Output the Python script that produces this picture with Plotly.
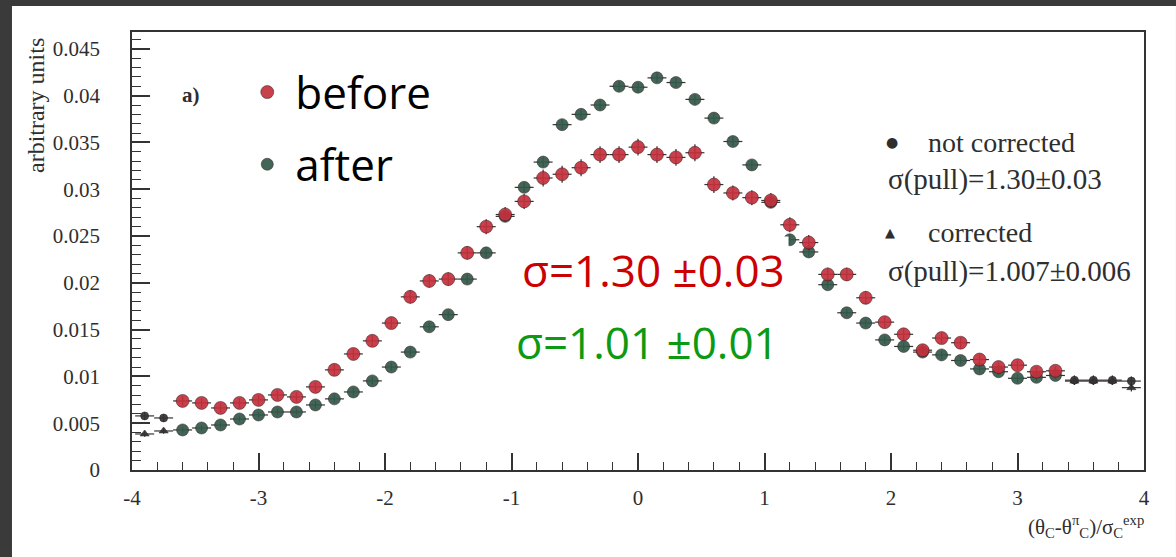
import plotly.graph_objects as go

# ---------------- data ----------------
bin_centers = [-3.9, -3.75, -3.6, -3.45, -3.3, -3.15, -3.0, -2.85, -2.7, -2.55,
               -2.4, -2.25, -2.1, -1.95, -1.8, -1.65, -1.5, -1.35, -1.2, -1.05,
               -0.9, -0.75, -0.6, -0.45, -0.3, -0.15, 0.0, 0.15, 0.3, 0.45,
               0.6, 0.75, 0.9, 1.05, 1.2, 1.35, 1.5, 1.65, 1.8, 1.95,
               2.1, 2.25, 2.4, 2.55, 2.7, 2.85, 3.0, 3.15, 3.3, 3.45,
               3.6, 3.75, 3.9]

before_vals = [0.00578, 0.00556, 0.00738, 0.00717, 0.00663, 0.00717, 0.00749, 0.00802, 0.00781, 0.00888,
               0.0107, 0.0124, 0.0138, 0.0157, 0.0185, 0.0202, 0.0204, 0.0232, 0.0260, 0.0273,
               0.0287, 0.0312, 0.0316, 0.0323, 0.0337, 0.0337, 0.0345, 0.0337, 0.0334, 0.0339,
               0.0305, 0.0296, 0.0291, 0.0288, 0.0262, 0.0243, 0.0209, 0.0209, 0.0184, 0.0158,
               0.0145, 0.0128, 0.0141, 0.0136, 0.0118, 0.0110, 0.0112, 0.0105, 0.0106, 0.0096,
               0.0096, 0.0096, 0.0095]

after_vals = [0.00385, 0.00417, 0.00428, 0.00449, 0.00481, 0.00545, 0.00588, 0.0062, 0.0062, 0.00695,
              0.0076, 0.00834, 0.00952, 0.0110, 0.0126, 0.0153, 0.0166, 0.0204, 0.0232, 0.0271,
              0.0302, 0.0329, 0.0369, 0.0380, 0.0390, 0.0410, 0.0409, 0.0419, 0.0414, 0.0396,
              0.0376, 0.0351, 0.0326, 0.0286, 0.0246, 0.0233, 0.0198, 0.0168, 0.0157, 0.0139,
              0.0132, 0.0126, 0.0123, 0.0117, 0.0108, 0.0105, 0.0098, 0.0099, 0.0101, 0.0095,
              0.0095, 0.0095, 0.0088]

before_err = [0.0004, 0.0004, 0.0005, 0.0005, 0.0005, 0.0005, 0.0005, 0.0005, 0.0005, 0.0005,
              0.0006, 0.0006, 0.0006, 0.0006, 0.0007, 0.0007, 0.0007, 0.0007, 0.0008, 0.0008,
              0.0008, 0.0009, 0.0009, 0.0009, 0.0009, 0.0009, 0.0009, 0.0009, 0.0009, 0.0009,
              0.0009, 0.0008, 0.0008, 0.0008, 0.0008, 0.0008, 0.0007, 0.0007, 0.0007, 0.0006,
              0.0006, 0.0006, 0.0006, 0.0006, 0.0006, 0.0005, 0.0005, 0.0005, 0.0005, 0.0005,
              0.0005, 0.0005, 0.0005]

after_err = [0.0003, 0.0003, 0.0003, 0.0003, 0.0003, 0.0003, 0.0003, 0.0003, 0.0003, 0.0004,
             0.0004, 0.0004, 0.0004, 0.0004, 0.0004, 0.0004, 0.0004, 0.0005, 0.0005, 0.0005,
             0.0005, 0.0005, 0.0005, 0.0005, 0.0005, 0.0005, 0.0005, 0.0005, 0.0005, 0.0005,
             0.0005, 0.0005, 0.0005, 0.0005, 0.0005, 0.0005, 0.0004, 0.0004, 0.0004, 0.0004,
             0.0004, 0.0004, 0.0004, 0.0004, 0.0004, 0.0004, 0.0004, 0.0004, 0.0004, 0.0004,
             0.0004, 0.0004, 0.0004]

bin_half_width = 0.075

y_tick_vals = [0, 0.005, 0.01, 0.015, 0.02, 0.025, 0.03, 0.035, 0.04, 0.045]
y_tick_text = ["0", "0.005", "0.01", "0.015", "0.02", "0.025", "0.03", "0.035", "0.04", "0.045"]
x_tick_vals = [-4, -3, -2, -1, 0, 1, 2, 3, 4]
x_tick_text = ["-4", "-3", "-2", "-1", "0", "1", "2", "3", "4"]

# bins at the edges were left uncoloured (black) in the scanned figure
colored_idx = list(range(2, 49))
plain_idx = [0, 1, 49, 50, 51, 52]

# ---------------- style ----------------
RED = "#c4303c"
GREEN = "#34594a"
DARK = "#333333"
INK = "#2e2e2e"
SERIF = "Liberation Serif"
SANS = "Open Sans"


def pick(vals, idx):
    return [vals[i] for i in idx]


fig = go.Figure()


def add_series(vals, errs, idx, color, symbol, size, name, showlegend, rank):
    fig.add_trace(go.Scatter(
        x=pick(bin_centers, idx), y=pick(vals, idx),
        mode="markers", name=name, showlegend=showlegend, legendrank=rank,
        legendgroup=name,
        marker=dict(color=color, size=size, symbol=symbol, opacity=0.92,
                    line=dict(color="rgba(40,20,20,0.55)", width=1)),
        error_x=dict(type="constant", value=bin_half_width, color=DARK, thickness=1.2, width=0),
        error_y=dict(type="data", array=pick(errs, idx), color=DARK, thickness=1.2, width=0),
    ))


add_series(after_vals, after_err, colored_idx, GREEN, "circle", 12, "after", True, 2)
add_series(before_vals, before_err, colored_idx, RED, "circle", 13, "before", True, 1)
add_series(after_vals, after_err, plain_idx, DARK, "triangle-up", 8, "after_plain", False, 3)
add_series(before_vals, before_err, plain_idx, DARK, "circle", 8, "before_plain", False, 4)

ann = []
# panel label
ann.append(dict(x=-3.53, y=0.0401, xref="x", yref="y", text="<b>a)</b>", showarrow=False,
                xanchor="center", yanchor="middle",
                font=dict(family=SERIF, size=21, color=INK)))
# coloured sigma values
ann.append(dict(x=-0.95, y=0.0214, xref="x", yref="y", xanchor="left", yanchor="middle",
                text="σ=1.30 ±0.03", showarrow=False, bgcolor="white", borderpad=3,
                font=dict(family=SANS, size=44, color="#cc0000")))
ann.append(dict(x=-1.0, y=0.0137, xref="x", yref="y", xanchor="left", yanchor="middle",
                text="σ=1.01 ±0.01", showarrow=False, bgcolor="white", borderpad=3,
                font=dict(family=SANS, size=44, color="#0d9a12")))
# original in-figure legend
ann.append(dict(x=2.008, y=0.0350, xref="x", yref="y", text="●", showarrow=False,
                xanchor="center", yanchor="middle",
                font=dict(family="DejaVu Sans", size=14, color=INK)))
ann.append(dict(x=2.28, y=0.0350, xref="x", yref="y", xanchor="left", yanchor="middle",
                text="not corrected", showarrow=False, font=dict(family=SERIF, size=28, color=INK)))
ann.append(dict(x=1.96, y=0.0310, xref="x", yref="y", xanchor="left", yanchor="middle",
                text="σ(pull)=1.30±0.03", showarrow=False, font=dict(family=SERIF, size=29, color=INK)))
ann.append(dict(x=1.99, y=0.02535, xref="x", yref="y", text="▲", showarrow=False,
                xanchor="center", yanchor="middle",
                font=dict(family="DejaVu Sans", size=13, color=INK)))
ann.append(dict(x=2.28, y=0.02535, xref="x", yref="y", xanchor="left", yanchor="middle",
                text="corrected", showarrow=False, font=dict(family=SERIF, size=28, color=INK)))
ann.append(dict(x=1.96, y=0.0212, xref="x", yref="y", xanchor="left", yanchor="middle",
                text="σ(pull)=1.007±0.006", showarrow=False, font=dict(family=SERIF, size=29, color=INK)))
# axis titles
ann.append(dict(x=-0.095, y=0.833, xref="paper", yref="paper", text="arbitrary units",
                xanchor="center", yanchor="middle",
                textangle=-90, showarrow=False, font=dict(family=SERIF, size=24, color=INK)))
ann.append(dict(x=1.002, y=-0.13, xref="paper", yref="paper", xanchor="right", yanchor="middle",
                text="(θ<sub>C</sub>-θ<sup>π</sup><sub>C</sub>)/σ<sub>C</sub><sup>exp</sup>",
                showarrow=False, font=dict(family=SERIF, size=21, color=INK)))

axis_common = dict(showgrid=False, zeroline=False, showline=True, linecolor=DARK, linewidth=1.5,
                   mirror=True, ticks="inside", tickcolor=DARK, tickwidth=1.5,
                   tickfont=dict(family=SERIF, size=21, color=INK))

fig.update_layout(
    width=1176, height=557,
    margin=dict(l=132, r=32, t=32, b=87),
    paper_bgcolor="#3a3a3a", plot_bgcolor="white",
    xaxis=dict(range=[-4, 4], tickvals=x_tick_vals, ticktext=x_tick_text, ticklen=17,
               ticklabelstandoff=8,
               minor=dict(ticks="inside", dtick=0.2, ticklen=8, tickcolor=DARK, tickwidth=1.3),
               **axis_common),
    yaxis=dict(range=[0, 0.0468], tickvals=y_tick_vals, ticktext=y_tick_text, ticklen=18,
               ticklabelstandoff=26,
               minor=dict(ticks="inside", dtick=0.001, ticklen=9, tickcolor=DARK, tickwidth=1.3),
               **axis_common),
    legend=dict(x=0.106, y=0.943, xanchor="left", yanchor="top", bgcolor="rgba(0,0,0,0)",
                font=dict(family=SANS, size=44, color="black"), tracegroupgap=12,
                itemsizing="trace", itemwidth=46),
    annotations=ann,
    shapes=[dict(type="rect", xref="paper", yref="paper", x0=-0.1186, x1=1.0316,
                 y0=-0.1986, y1=1.0594, fillcolor="white", line=dict(width=0), layer="below")],
)

fig.write_html("out.html", config={"displayModeBar": False},
               post_script="document.body.style.margin='0px';")
